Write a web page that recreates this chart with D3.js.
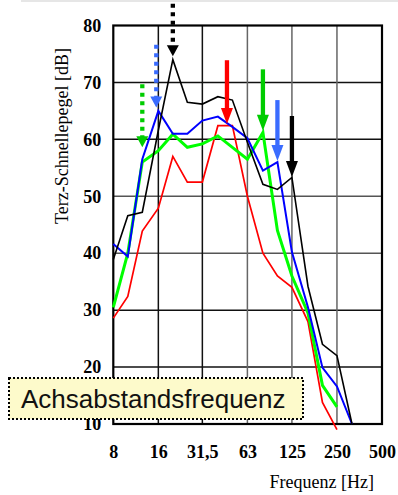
<!DOCTYPE html>
<html>
<head>
<meta charset="utf-8">
<script src="https://cdn.jsdelivr.net/npm/d3@7"></script>
<style>
  body { margin: 0; background: #fff; }
  svg { display: block; }
</style>
</head>
<body>
<div id="chart"></div>
<script>
// terz bands (Hz) and measured levels (dB) per curve
const freqs = [8, 10, 12.5, 16, 20, 25, 31.5, 40, 50, 63, 80, 100, 125, 160, 200, 250, 315];
const red   = [28.6, 32.4, 43.9, 47.9, 57.0, 52.5, 52.5, 62.4, 62.4, 50.0, 40.0, 36.0, 34.0, 28.0, 13.8, 9.0];
const green = [30.5, 40.0, 56.0, 58.0, 60.9, 58.6, 59.2, 60.6, 58.6, 56.5, 61.2, 44.0, 36.0, 29.5, 16.8, 13.0];
const blue  = [41.6, 39.4, 56.5, 65.0, 61.0, 61.0, 63.3, 64.0, 62.2, 60.2, 54.5, 56.0, 40.2, 30.5, 19.9, 16.6, 10];
const black = [38.9, 46.6, 47.2, 61.6, 74.0, 66.5, 66.2, 67.5, 66.9, 59.5, 52.1, 51.2, 53.3, 34.2, 24.0, 22.0, 10];

const xTicks = [8, 16, 31.5, 63, 125, 250, 500];
const yTicks = [10, 20, 30, 40, 50, 60, 70, 80];

// arrows: band, start level, tip level
const arrowFreq  = [12.5, 15.5, 20, 46, 80, 100, 125];
const arrowTop   = [69.7, 76.6, 83.8, 73.9, 72.3, 66.9, 64.1];
const arrowTip   = [58.6, 65.6, 74.6, 62.7, 61.5, 56.2, 53.4];
const arrowColor = ["#00cc00", "#3a6cff", "#000", "#ff0000", "#00cc00", "#3a6cff", "#000"];
const arrowDotted = [true, true, true, false, false, false, false];

const W = 398, H = 495;
const x = d3.scaleLog().domain([8, 500]).range([113.3, 382]);
const y = d3.scaleLinear().domain([10, 80]).range([424, 25.5]);

const svg = d3.select("#chart").append("svg")
    .attr("width", W)
    .attr("height", H);

// thin grey band on top
svg.append("rect")
    .attr("x", 21).attr("y", 0)
    .attr("width", W - 21).attr("height", 2)
    .attr("fill", "#e6e6e6");

// grid
const grid = svg.append("g");
grid.selectAll("line.h")
  .data([20, 30, 40, 50, 60, 70])
  .join("line")
    .attr("x1", x(8)).attr("x2", x(500))
    .attr("y1", d => y(d)).attr("y2", d => y(d))
    .attr("stroke", d => (d == 40 || d == 50) ? "#555" : "#111")
    .attr("stroke-width", 1.5);
grid.selectAll("line.v")
  .data([16, 31.5, 63, 125, 250])
  .join("line")
    .attr("x1", d => x(d)).attr("x2", d => x(d))
    .attr("y1", y(80)).attr("y2", y(10))
    .attr("stroke", d => d < 40 ? "#111" : "#666")
    .attr("stroke-width", 1.5);

// frame
svg.append("rect")
    .attr("x", x(8)).attr("y", y(80))
    .attr("width", x(500) - x(8)).attr("height", y(10) - y(80))
    .attr("fill", "none")
    .attr("stroke", "#000")
    .attr("stroke-width", 2.2);

// curves
const line = d3.line()
    .x((d, i) => x(freqs[i]))
    .y(d => y(d));

const series = [
  {vals: red, color: "#ff0000", w: 1.7},
  {vals: green, color: "#00ff00", w: 3},
  {vals: blue, color: "#0000ff", w: 2},
  {vals: black, color: "#000000", w: 1.6}
];
svg.append("g")
  .selectAll("path")
  .data(series)
  .join("path")
    .attr("d", d => line(d.vals))
    .attr("fill", "none")
    .attr("stroke", d => d.color)
    .attr("stroke-width", d => d.w)
    .attr("stroke-linejoin", "miter");

// arrows
const arrows = svg.append("g");
arrowFreq.forEach((f, i) => {
  const ax = x(f), top = y(arrowTop[i]), tip = y(arrowTip[i]);
  const hh = arrowDotted[i] ? 11 : 16;
  const hw = 6;
  arrows.append("line")
      .attr("x1", ax).attr("x2", ax)
      .attr("y1", top).attr("y2", tip - hh + 1)
      .attr("stroke", arrowColor[i])
      .attr("stroke-width", 4.3)
      .attr("stroke-dasharray", arrowDotted[i] ? "4,4.5" : null);
  arrows.append("path")
      .attr("d", `M${ax - hw},${tip - hh}L${ax + hw},${tip - hh}L${ax},${tip}Z`)
      .attr("fill", arrowColor[i]);
});

// axes labels
const yAxis = svg.append("g")
    .attr("transform", `translate(${x(8)},0)`)
    .call(d3.axisLeft(y).tickValues(yTicks).tickSize(0).tickPadding(12));
const xAxis = svg.append("g")
    .attr("transform", `translate(0,${y(10)})`)
    .call(d3.axisBottom(x).tickValues(xTicks).tickSize(0).tickPadding(21)
      .tickFormat(d => String(d).replace(".", ",")));
[yAxis, xAxis].forEach(a => {
  a.select(".domain").remove();
  a.selectAll("text")
      .attr("fill", "#000")
      .style("font-family", "'Liberation Serif', 'Times New Roman', serif")
      .style("font-weight", "bold")
      .style("font-size", "18px");
});

svg.append("text")
    .attr("transform", "translate(68,136) rotate(-90)")
    .attr("text-anchor", "middle")
    .style("font-family", "'Liberation Serif', 'Times New Roman', serif")
    .style("font-size", "18px")
    .text("Terz-Schnellepegel [dB]");

svg.append("text")
    .attr("x", 374).attr("y", 488)
    .attr("text-anchor", "end")
    .style("font-family", "'Liberation Serif', 'Times New Roman', serif")
    .style("font-size", "18px")
    .text("Frequenz [Hz]");

// legend box
const lg = svg.append("g");
lg.append("rect")
    .attr("x", 9).attr("y", 378)
    .attr("width", 294).attr("height", 41)
    .attr("fill", "#fdfacb")
    .attr("stroke", "#000")
    .attr("stroke-width", 2)
    .attr("stroke-dasharray", "2,2");
lg.append("text")
    .attr("x", 21).attr("y", 407.5)
    .style("font-family", "'Liberation Sans', Arial, sans-serif")
    .style("font-size", "26px")
    .attr("fill", "#111")
    .text("Achsabstandsfrequenz");
</script>
</body>
</html>
